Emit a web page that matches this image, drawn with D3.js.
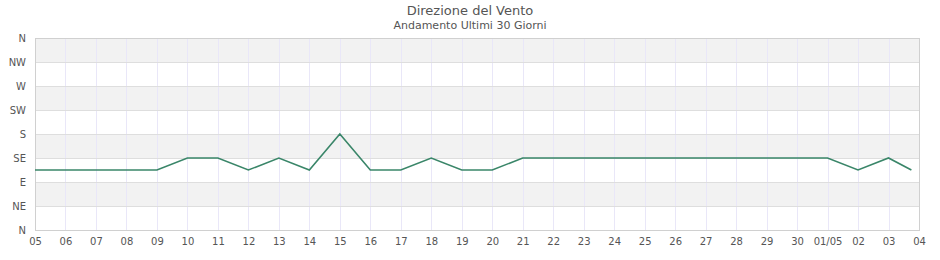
<!DOCTYPE html>
<html>
<head>
<meta charset="utf-8">
<style>
body { margin: 0; background: #fff; }
svg text { font-family: "DejaVu Sans", sans-serif; fill: #555; }
.axis .domain { display: none; }
.axis line { display: none; }
</style>
<script src="https://cdn.jsdelivr.net/npm/d3@7"></script>
</head>
<body>
<svg width="940" height="260"></svg>
<script>
// giorni (ultimo punto: rilevazione parziale del giorno 03)
var dates = ["2025-04-05","2025-04-06","2025-04-07","2025-04-08","2025-04-09","2025-04-10",
  "2025-04-11","2025-04-12","2025-04-13","2025-04-14","2025-04-15","2025-04-16","2025-04-17",
  "2025-04-18","2025-04-19","2025-04-20","2025-04-21","2025-04-22","2025-04-23","2025-04-24",
  "2025-04-25","2025-04-26","2025-04-27","2025-04-28","2025-04-29","2025-04-30","2025-05-01",
  "2025-05-02","2025-05-03","2025-05-03T18:00"];
// direzione in gradi
var direction = [112.5,112.5,112.5,112.5,112.5,135,135,112.5,135,112.5,180,112.5,112.5,
  135,112.5,112.5,135,135,135,135,135,135,135,135,135,135,135,112.5,135,112.5];
var dirLabels = ["N","NE","E","SE","S","SW","W","NW","N"];
var xStart = "2025-04-05", xEnd = "2025-05-04";

var svg = d3.select("svg"),
    margin = {top: 38, right: 21, bottom: 30, left: 35},
    width = +svg.attr("width") - margin.left - margin.right,
    height = +svg.attr("height") - margin.top - margin.bottom,
    g = svg.append("g").attr("transform", "translate(" + margin.left + "," + margin.top + ")");

var parse = d3.isoParse;
var data = dates.map(function(d, i) { return {date: parse(d), dir: direction[i]}; });

var x = d3.scaleTime().domain([parse(xStart), parse(xEnd)]).range([0, width]);
var y = d3.scaleLinear().domain([0, 360]).range([height, 0]);
var yTicks = d3.range(0, 361, 45);
var xTicks = d3.timeDay.range(parse(xStart), d3.timeDay.offset(parse(xEnd), 1));

// bande grigie: N-NW, W-SW, S-SE, E-NE (dall'alto)
var bands = yTicks.slice(1).reverse().filter(function(d, i) { return i % 2 == 0; });
g.append("g").selectAll("rect")
  .data(bands)
  .enter().append("rect")
    .attr("x", 0)
    .attr("width", width)
    .attr("y", function(d) { return y(d); })
    .attr("height", function(d) { return y(d - 45) - y(d); })
    .attr("fill", "#f2f2f2");

// griglia verticale
g.append("g").selectAll("line")
  .data(xTicks)
  .enter().append("line")
    .attr("x1", function(d) { return Math.round(x(d)) + 0.5; })
    .attr("x2", function(d) { return Math.round(x(d)) + 0.5; })
    .attr("y1", 0).attr("y2", height)
    .attr("stroke", "#e9e7f8");

// griglia orizzontale
g.append("g").selectAll("line")
  .data(yTicks)
  .enter().append("line")
    .attr("x1", 0).attr("x2", width)
    .attr("y1", function(d) { return Math.round(y(d)) + 0.5; })
    .attr("y2", function(d) { return Math.round(y(d)) + 0.5; })
    .attr("stroke", "#dedede");

// bordo
g.append("rect")
  .attr("x", 0.5).attr("y", 0.5)
  .attr("width", width).attr("height", height)
  .attr("fill", "none")
  .attr("stroke", "#d0d0d0");

var line = d3.line()
  .x(function(d) { return x(d.date); })
  .y(function(d) { return y(d.dir); });

g.append("path")
  .datum(data)
  .attr("fill", "none")
  .attr("stroke", "#3a8669")
  .attr("stroke-width", 1.6)
  .attr("d", line);

var fmt = function(d) { return d.getDate() == 1 ? d3.timeFormat("%d/%m")(d) : d3.timeFormat("%d")(d); };

g.append("g")
  .attr("class", "axis")
  .attr("transform", "translate(0," + height + ")")
  .call(d3.axisBottom(x).tickValues(xTicks).tickFormat(fmt).tickSize(0).tickPadding(8))
  .selectAll("text")
    .style("font-size", "10px");

g.append("g")
  .attr("class", "axis")
  .call(d3.axisLeft(y).tickValues(yTicks).tickFormat(function(d, i) { return dirLabels[i]; }).tickSize(0).tickPadding(9))
  .selectAll("text")
    .style("font-size", "10px");

g.selectAll(".axis text").style("fill", "#555");

svg.append("text")
  .attr("x", 470).attr("y", 15)
  .attr("text-anchor", "middle")
  .style("font-size", "13px")
  .text("Direzione del Vento");

svg.append("text")
  .attr("x", 470).attr("y", 29)
  .attr("text-anchor", "middle")
  .style("font-size", "11px")
  .text("Andamento Ultimi 30 Giorni");
</script>
</body>
</html>
